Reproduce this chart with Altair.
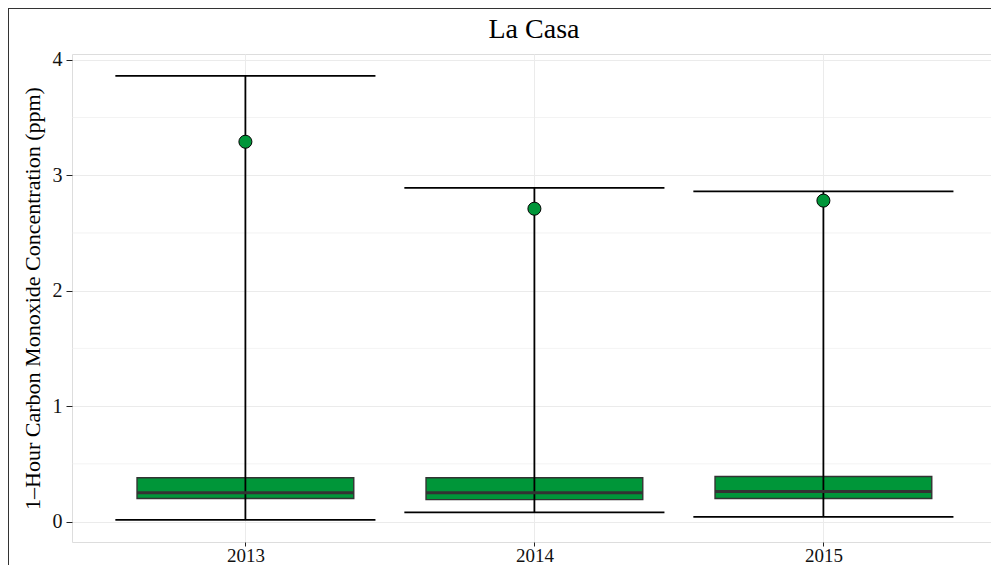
import altair as alt
import pandas as pd

years = ["2013", "2014", "2015"]
y_min = [0.015, 0.08, 0.04]
y_max = [3.86, 2.89, 2.86]
q1 = [0.20, 0.19, 0.20]
median = [0.25, 0.25, 0.26]
q3 = [0.38, 0.38, 0.39]
point_val = [3.29, 2.71, 2.78]
minor_grid = [0.5, 1.5, 2.5, 3.5]
title_text = ["La Casa"]

idx = list(range(1, len(years) + 1))
df = pd.DataFrame({
    "year": years, "i": idx, "ymin": y_min, "ymax": y_max,
    "q1": q1, "med": median, "q3": q3, "pt": point_val,
})
df["box_lo"] = df["i"] - 0.375
df["box_hi"] = df["i"] + 0.375
df["cap_lo"] = df["i"] - 0.45
df["cap_hi"] = df["i"] + 0.45

FONT = "Liberation Serif"
GREEN = "#009639"

W, H = 919, 488
PAD_L, PAD_T = 64, 46
step = 289.0  # pixels per category
xs = alt.Scale(domain=[0.4, 0.4 + W / step], nice=False, zero=False)
ys = alt.Scale(domain=[-0.177, 4.05], nice=False, zero=False)

label_expr = " : ".join(
    [f"datum.value == {i} ? '{y}'" for i, y in zip(idx, years)]
) + " : ''"

x_axis = alt.Axis(values=idx, labelExpr=label_expr, title=None, grid=True,
                  gridColor="#ebebeb", domain=False, tickColor="#222",
                  tickSize=4, labelFont=FONT, labelFontSize=19, labelColor="#111",
                  labelPadding=0)
y_axis = alt.Axis(values=[0, 1, 2, 3, 4], format="d",
                  title="1–Hour Carbon Monoxide Concentration (ppm)",
                  grid=True, gridColor="#ebebeb", domain=False, tickColor="#222",
                  tickSize=6, labelFont=FONT, labelFontSize=20, labelColor="#111",
                  labelPadding=4, titleFont=FONT, titleFontSize=22, titleFontWeight="normal",
                  titleColor="#000", titlePadding=8)

base = alt.Chart(df)

minor = alt.Chart(pd.DataFrame({"v": minor_grid})).mark_rule(
    color="#ebebeb", strokeWidth=0.6
).encode(y=alt.Y("v:Q", scale=ys, axis=y_axis))

box = base.mark_bar(fill=GREEN, stroke="#333", strokeWidth=1.4).encode(
    x=alt.X("box_lo:Q", scale=xs, axis=x_axis), x2="box_hi:Q",
    y=alt.Y("q1:Q", scale=ys), y2="q3:Q",
)
med = base.mark_rule(color="#333", strokeWidth=3).encode(
    x=alt.X("box_lo:Q", scale=xs), x2="box_hi:Q", y=alt.Y("med:Q", scale=ys)
)
vline = base.mark_rule(color="#000", strokeWidth=1.8).encode(
    x=alt.X("i:Q", scale=xs), y=alt.Y("ymin:Q", scale=ys), y2="ymax:Q"
)
cap_lo = base.mark_rule(color="#000", strokeWidth=1.8).encode(
    x=alt.X("cap_lo:Q", scale=xs), x2="cap_hi:Q", y=alt.Y("ymin:Q", scale=ys)
)
cap_hi = base.mark_rule(color="#000", strokeWidth=1.8).encode(
    x=alt.X("cap_lo:Q", scale=xs), x2="cap_hi:Q", y=alt.Y("ymax:Q", scale=ys)
)
pts = base.mark_point(filled=True, fill=GREEN, stroke="#000", strokeWidth=1,
                      size=170, opacity=1, shape="circle").encode(
    x=alt.X("i:Q", scale=xs), y=alt.Y("pt:Q", scale=ys)
)

one = pd.DataFrame({"a": [0]})
frame_top = alt.Chart(one).mark_rule(color="#333", strokeWidth=1).encode(
    x=alt.value(-PAD_L), x2=alt.value(1000), y=alt.value(-PAD_T + 0.5)
)
frame_left = alt.Chart(one).mark_rule(color="#333", strokeWidth=1).encode(
    x=alt.value(-PAD_L + 0.5), y=alt.value(-PAD_T), y2=alt.value(600)
)
title = alt.Chart(pd.DataFrame({"t": title_text})).mark_text(
    font=FONT, fontSize=28, color="#000", align="center", baseline="alphabetic"
).encode(text="t:N", x=alt.value(462), y=alt.value(-16))

chart = alt.layer(
    minor, box, vline, med, cap_lo, cap_hi, pts, frame_top, frame_left, title
).properties(
    width=W, height=H,
    autosize=alt.AutoSizeParams(type="none"),
    padding={"left": PAD_L, "top": PAD_T, "right": 0, "bottom": 23},
).configure_view(stroke="#7f7f7f", strokeWidth=1).configure(background="white")

chart.save("out.html", embed_options={"renderer": "svg", "actions": False})
